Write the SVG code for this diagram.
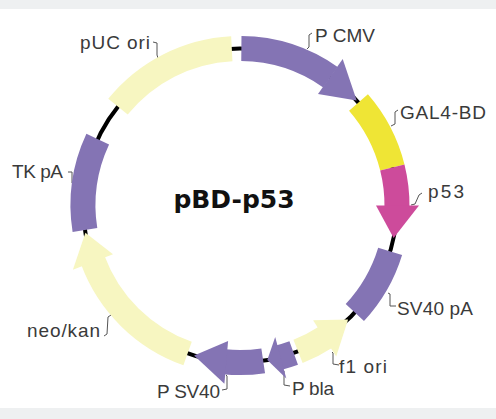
<svg xmlns="http://www.w3.org/2000/svg" width="496" height="419" viewBox="0 0 496 419">
<defs>
<style>
.seg{fill:none;stroke-width:25}
.pu{stroke:#8474b4}
.pf{fill:#8474b4}
.ly{stroke:#f7f6c1}
.lyf{fill:#f7f6c1}
.ye{stroke:#efe535}
.mg{stroke:#cd4b9b}
.mgf{fill:#cd4b9b}
.lbl{font-family:"Liberation Sans",Arial,sans-serif;font-size:19px;fill:#3a3a3a}
.ld{fill:none;stroke:#555;stroke-width:1}
</style>
</defs>
<rect x="0" y="0" width="496" height="419" fill="#eef0f1"/>
<rect x="0" y="9" width="496" height="399" fill="#ffffff"/>
<g id="connectors">
<circle cx="240" cy="205.5" r="157" fill="none" stroke="#000" stroke-width="4"/>
<path class="ld" d="M307,49 L309,47 L309,35 L312,33"/>
<path class="ld" d="M391,126 L395,124 L395,112 L398,110"/>
<path class="ld" d="M411,205 L415,204 L419,195 L422,193"/>
<path class="ld" d="M388,293 L390,294 L390,306 L396,306"/>
<path class="ld" d="M332,352 L333,353 L333,364 L339,365"/>
<path class="ld" d="M283,370 L284,371 L284,385 L290,386"/>
<path class="ld" d="M226,375 L227,376 L227,389 L222,390"/>
<path class="ld" d="M111,315 L108,317 L107,334 L104,336"/>
<path class="ld" d="M68,172 L72,172 L72,183 L74,185"/>
<path class="ld" d="M153,42 L157,43 L157,55 L158,58"/>
</g>
<g id="puc-ori">
<circle class="seg ly" cx="240" cy="205.5" r="157" stroke-dasharray="131.5 2000" transform="rotate(219 240 205.5)"/>
<text class="lbl" x="80" y="49" textLength="70">pUC ori</text>
</g>
<g id="p-cmv">
<circle class="seg pu" cx="240" cy="205.5" r="157" stroke-dasharray="95 2000" transform="rotate(-89.5 240 205.5)"/>
<polygon class="pf" points="342.7,58.9 318,94.1 356.7,100.5"/>
<text class="lbl" x="315" y="42" textLength="60">P CMV</text>
</g>
<g id="gal4-bd">
<circle class="seg ye" cx="240" cy="205.5" r="157" stroke-dasharray="74 2000" transform="rotate(-41 240 205.5)"/>
<text class="lbl" x="400" y="119" textLength="86">GAL4-BD</text>
</g>
<g id="p53">
<circle class="seg mg" cx="240" cy="205.5" r="157" stroke-dasharray="40.5 2000" transform="rotate(-14 240 205.5)"/>
<polygon class="mgf" points="419,205.5 376,205.5 393.6,238.1"/>
<text class="lbl" x="428" y="198" textLength="36">p53</text>
</g>
<g id="sv40-pa">
<circle class="seg pu" cx="240" cy="205.5" r="157" stroke-dasharray="71.2 2000" transform="rotate(17 240 205.5)"/>
<text class="lbl" x="397" y="314.5" textLength="76">SV40 pA</text>
</g>
<g id="f1-ori">
<circle class="seg ly" cx="240" cy="205.5" r="157" stroke-dasharray="31 2000" transform="rotate(57 240 205.5)"/>
<polygon class="lyf" points="336.2,356.5 313.1,320.2 348.1,319.4"/>
<text class="lbl" x="339" y="373" textLength="48">f1 ori</text>
</g>
<g id="p-bla">
<circle class="seg pu" cx="240" cy="205.5" r="157" stroke-dasharray="15.5 2000" transform="rotate(70 240 205.5)"/>
<polygon class="pf" points="286.3,378.4 275.2,336.9 267.3,360.1"/>
<text class="lbl" x="292" y="395" textLength="42">P bla</text>
</g>
<g id="p-sv40">
<circle class="seg pu" cx="240" cy="205.5" r="157" stroke-dasharray="39 2000" transform="rotate(81.5 240 205.5)"/>
<polygon class="pf" points="224.4,383.8 228.1,341 194.1,355.6"/>
<text class="lbl" x="157" y="398" textLength="63">P SV40</text>
</g>
<g id="neo-kan">
<circle class="seg ly" cx="240" cy="205.5" r="157" stroke-dasharray="137.5 2000" transform="rotate(109.5 240 205.5)"/>
<polygon class="lyf" points="72.9,269.7 113,254.2 85.4,232.8"/>
<text class="lbl" x="27" y="337" textLength="73">neo/kan</text>
</g>
<g id="tk-pa">
<circle class="seg pu" cx="240" cy="205.5" r="157" stroke-dasharray="93.2 2000" transform="rotate(171 240 205.5)"/>
<text class="lbl" x="12" y="177.5" textLength="51">TK pA</text>
</g>
<g id="title">
<text x="234" y="208" text-anchor="middle" font-family="'DejaVu Sans',sans-serif" font-weight="bold" font-size="25" fill="#111">pBD-p53</text>
</g>
</svg>
